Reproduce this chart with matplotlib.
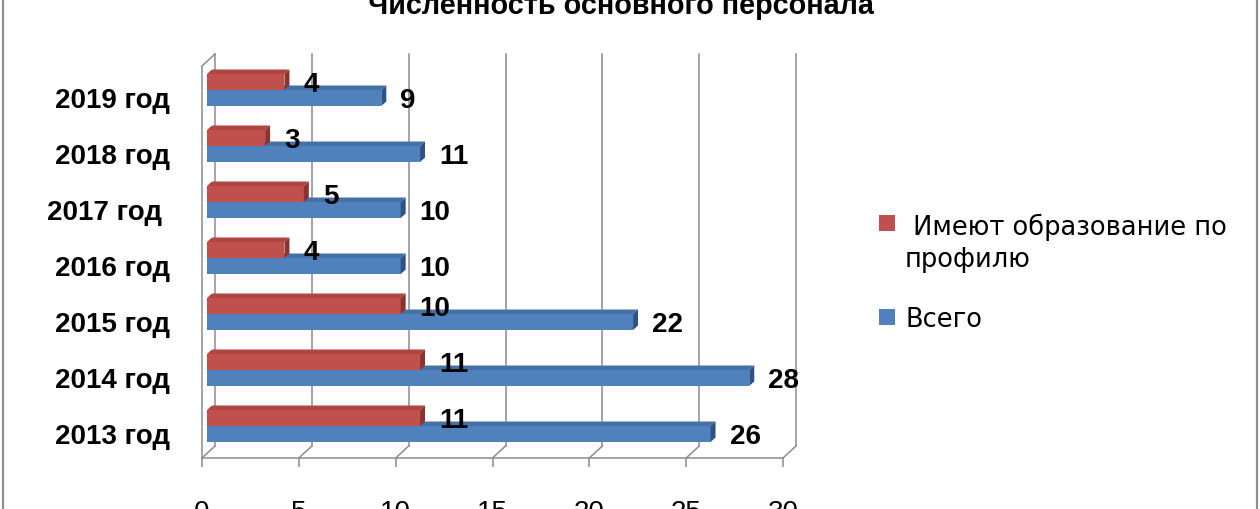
import numpy as np
import matplotlib
matplotlib.use("Agg")
import matplotlib.pyplot as plt
from matplotlib.patches import Polygon, Rectangle
from matplotlib.lines import Line2D
from matplotlib.transforms import ScaledTranslation

plt.rcParams['font.family'] = ['Liberation Sans', 'DejaVu Sans']

# data (bottom to top)
years = ["2013 год", "2014 год", "2015 год", "2016 год", "2017 год ", "2018 год", "2019 год"]
total = [26, 28, 22, 10, 10, 11, 9]          # Всего
profile = [11, 11, 10, 4, 5, 3, 4]           # Имеют образование по профилю
title = "Численность основного персонала"
label_profile = " Имеют образование по\nпрофилю"
label_total = "Всего"

red, red_top, red_side = "#C0504D", "#B0443F", "#8A3432"
blue, blue_top, blue_side = "#4F81BD", "#4571A8", "#2E5284"
gray = "#8C8C8C"

W, H = 1260, 510
fig = plt.figure(figsize=(W / 100, H / 100), dpi=100)

# front plane of the 3d box in pixels
x0, x1, yb, yt = 202, 783, 459, 67
ax = fig.add_axes([x0 / W, 1 - yb / H, (x1 - x0) / W, (yb - yt) / H])
ax.set_xlim(0, 30)
ax.set_ylim(-0.5, 6.5)

ux = 30 / (x1 - x0)   # data units per pixel
uy = 7 / (yb - yt)

# back wall offset and bar plane offset (pixels)
wdx, wdy = 13, 12
bdx, bdy = 5, 4
ddx, ddy = 5, 4.5
h = 16 * uy

ticks = np.arange(0, 31, 5)
for t in ticks:
    # back wall grid lines
    ax.plot([t + wdx * ux] * 2, [-0.5 + wdy * uy, 6.5 + wdy * uy],
            color=gray, lw=1.1, clip_on=False, zorder=1)
    # floor diagonals
    ax.plot([t, t + wdx * ux], [-0.5, -0.5 + wdy * uy],
            color=gray, lw=1.1, clip_on=False, zorder=1)
# left wall top edge
ax.plot([0, wdx * ux], [6.5, 6.5 + wdy * uy], color=gray, lw=1.1, clip_on=False, zorder=1)

pos = np.arange(len(years))
left = bdx * ux
base = pos + bdy * uy


def bar3d(ys, vals, front, top, side):
    ax.barh(ys, vals, height=h, left=left, color=front, align='edge',
            zorder=3, clip_on=False)
    for yy, v in zip(ys, vals):
        y_top = yy + h
        xe = left + v
        ax.add_patch(Polygon([(left, y_top), (xe, y_top),
                              (xe + ddx * ux, y_top + ddy * uy),
                              (left + ddx * ux, y_top + ddy * uy)],
                             closed=True, fc=top, ec='none', zorder=3, clip_on=False))
        ax.add_patch(Polygon([(xe, yy), (xe + ddx * ux, yy + ddy * uy),
                              (xe + ddx * ux, y_top + ddy * uy), (xe, y_top)],
                             closed=True, fc=side, ec='none', zorder=3, clip_on=False))


bar3d(base - h, total, blue, blue_top, blue_side)
bar3d(base, profile, red, red_top, red_side)

for yy, v in zip(base - h / 2, total):
    ax.annotate(str(v), (left + v, yy), xytext=(19, -2), textcoords='offset pixels',
                ha='left', va='center', fontsize=20, fontweight='bold', zorder=5)
for yy, v in zip(base + h / 2, profile):
    ax.annotate(str(v), (left + v, yy), xytext=(19, -2), textcoords='offset pixels',
                ha='left', va='center', fontsize=20, fontweight='bold', zorder=5)

for s in ['top', 'right']:
    ax.spines[s].set_visible(False)
for s in ['left', 'bottom']:
    ax.spines[s].set_color(gray)
    ax.spines[s].set_linewidth(1.1)

ax.set_xticks(ticks)
ax.tick_params(axis='x', length=6.5, width=1.1, color=gray, pad=23, labelsize=20)
ax.set_yticks(pos)
ax.set_yticklabels(years, fontsize=20, fontweight='bold')
ax.tick_params(axis='y', length=0, pad=23)
for lab in ax.get_yticklabels():
    lab.set_transform(lab.get_transform() + ScaledTranslation(0, -0.03, fig.dpi_scale_trans))

# title (cut at the top of the picture)
fig.text(621 / W, 1 - 14 / H, title, ha='center', va='baseline',
         fontsize=20.7, fontweight='bold')

# legend
fig.add_artist(Rectangle((879 / W, 1 - 232 / H), 16 / W, 16 / H, fc=red, ec='none',
                         transform=fig.transFigure))
fig.add_artist(Rectangle((879 / W, 1 - 326 / H), 16 / W, 16 / H, fc=blue, ec='none',
                         transform=fig.transFigure))
fig.text(905 / W, 1 - 267 / H, label_profile, ha='left', va='baseline',
         fontsize=18.5, linespacing=1.3, family=['DejaVu Sans'])
fig.text(905 / W, 1 - 327 / H, label_total, ha='left', va='baseline', fontsize=18.5,
         family=['DejaVu Sans'])

# chart border
for xb in [3, 1257]:
    fig.add_artist(Line2D([xb / W, xb / W], [0, 1], color="#909090", lw=1.6,
                          transform=fig.transFigure))

fig.savefig("out.png", dpi=100)
